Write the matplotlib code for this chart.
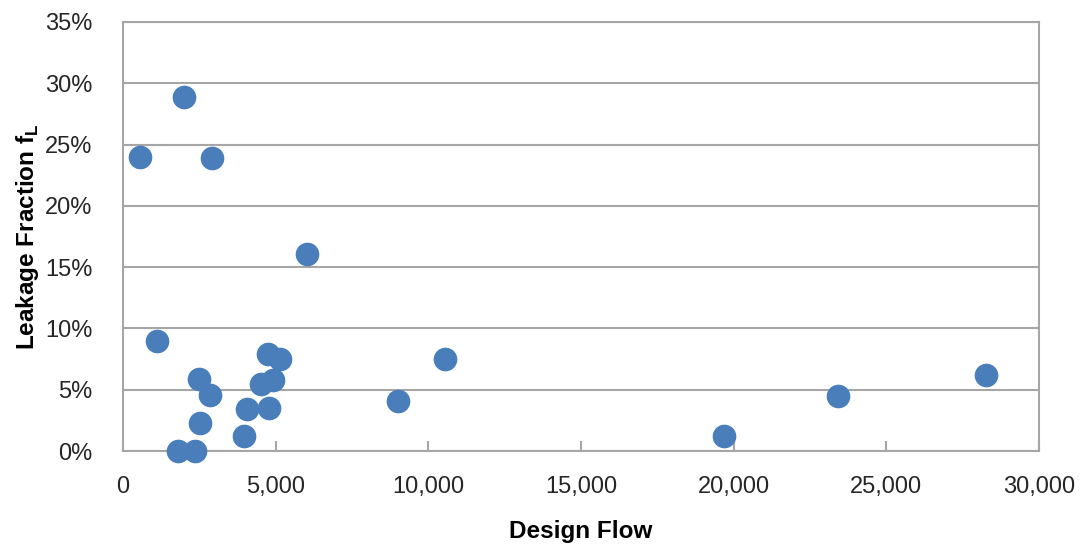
import matplotlib.pyplot as plt
from matplotlib.ticker import FuncFormatter

# design flow vs leakage fraction (percent)
design_flow = [540, 2000, 2900, 6020, 1120, 2480, 2840, 2530, 1810, 2370,
               3960, 4070, 4770, 4530, 4910, 4750, 5140, 8990, 10550,
               19670, 23420, 28250]
leakage_pct = [24.0, 28.9, 23.9, 16.1, 9.0, 5.9, 4.6, 2.3, 0.0, 0.0,
               1.2, 3.4, 3.5, 5.5, 5.8, 7.9, 7.5, 4.1, 7.5,
               1.2, 4.5, 6.2]

x_ticks = [0, 5000, 10000, 15000, 20000, 25000, 30000]
y_ticks = [0, 5, 10, 15, 20, 25, 30, 35]

plt.rcParams["font.family"] = ["Liberation Sans", "DejaVu Sans"]
plt.rcParams["mathtext.fontset"] = "custom"
plt.rcParams["mathtext.bf"] = "Liberation Sans:bold"
plt.rcParams["mathtext.rm"] = "Liberation Sans:bold"

grey = "#a6a6a6"

fig = plt.figure(figsize=(10.83, 5.5), dpi=100)
ax = fig.add_axes([0.1136, 0.18, 0.8458, 0.78])

ax.scatter(design_flow, leakage_pct, s=290, color="#4a7ebb", zorder=3,
           linewidths=0, clip_on=False)

ax.set_xlim(0, 30000)
ax.set_ylim(0, 35)
ax.set_xticks(x_ticks)
ax.set_yticks(y_ticks)
ax.xaxis.set_major_formatter(FuncFormatter(lambda v, p: f"{int(v):,}"))
ax.yaxis.set_major_formatter(FuncFormatter(lambda v, p: f"{int(v)}%"))

ax.grid(axis="y", color=grey, linewidth=1.5)
ax.set_axisbelow(True)
for sp in ax.spines.values():
    sp.set_color(grey)
    sp.set_linewidth(1.5)

ax.tick_params(axis="x", direction="in", length=7, width=1.5, color=grey,
               pad=18, labelsize=17, labelcolor="#262626")
ax.tick_params(axis="y", length=0, pad=22, labelsize=17,
               labelcolor="#262626")

ax.set_xlabel("Design Flow", fontsize=17.5, fontweight="bold", labelpad=16)
ax.set_ylabel(r"Leakage Fraction f$_{\mathbf{L}}$", fontsize=17.5,
              fontweight="bold", labelpad=3)

plt.savefig("out.png", dpi=100)
